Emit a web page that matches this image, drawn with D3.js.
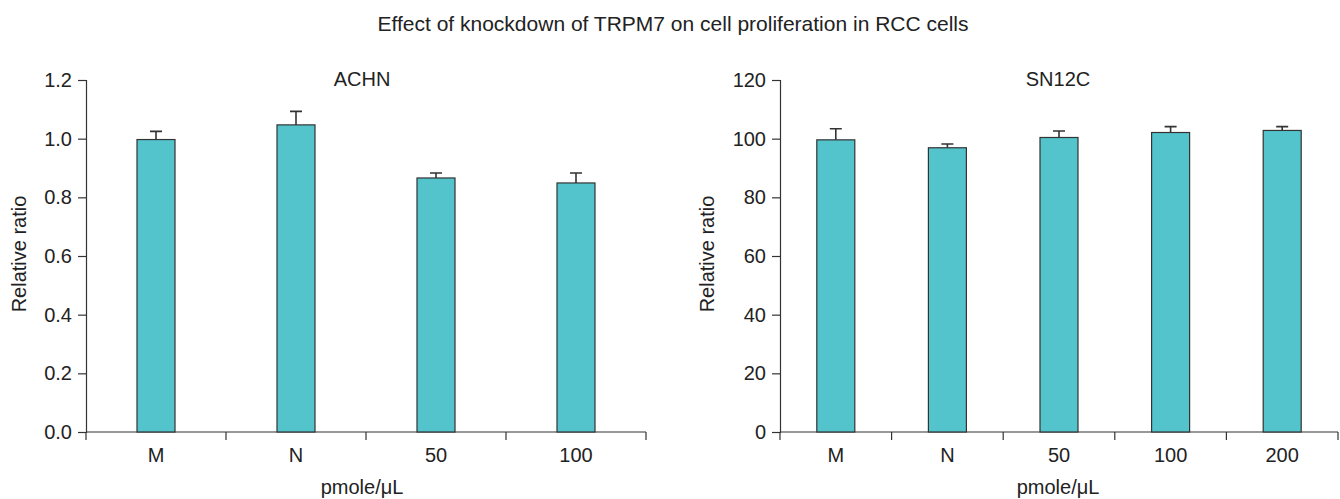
<!DOCTYPE html>
<html>
<head>
<meta charset="utf-8">
<script src="https://cdn.jsdelivr.net/npm/d3@7"></script>
<style>
  body { margin: 0; background: #fff; }
  text { font-family: "Liberation Sans", Arial, sans-serif; fill: #222; }
</style>
</head>
<body>
<div id="chart"></div>
<script>
// data
var achnCats = ["M", "N", "50", "100"];
var achnVals = [0.997, 1.047, 0.866, 0.849];
var achnErr  = [0.028, 0.046, 0.017, 0.034];
var achnTicks = [0, 0.2, 0.4, 0.6, 0.8, 1.0, 1.2];

var snCats = ["M", "N", "50", "100", "200"];
var snVals = [99.6, 96.9, 100.4, 102.1, 102.8];
var snErr  = [3.8, 1.3, 2.2, 2.0, 1.3];
var snTicks = [0, 20, 40, 60, 80, 100, 120];

var width = 1340, height = 499;
var barColor = "#53c4cc";
var lineColor = "#333";

var svg = d3.select("#chart").append("svg")
  .attr("width", width)
  .attr("height", height);

svg.append("text")
  .attr("x", 673).attr("y", 31)
  .attr("text-anchor", "middle")
  .style("font-size", "21px")
  .text("Effect of knockdown of TRPM7 on cell proliferation in RCC cells");

function drawPanel(opt) {
  var x = d3.scaleBand().domain(opt.cats).range([opt.x0, opt.x1]).padding(0);
  var y = d3.scaleLinear().domain([0, opt.max]).range([432, 80]);
  var g = svg.append("g");

  // y axis
  var yAxis = d3.axisLeft(y).tickValues(opt.ticks).tickSizeOuter(0).tickSize(8).tickPadding(6)
    .tickFormat(opt.fmt);
  var ya = g.append("g").attr("transform", "translate(" + opt.x0 + ",0)").call(yAxis);
  ya.selectAll("path, line").attr("stroke", lineColor).attr("stroke-width", 1.2);
  ya.selectAll("text").style("font-size", "20px").attr("fill", "#222");

  // x axis: baseline and ticks at band edges
  g.append("line")
    .attr("x1", opt.x0).attr("x2", opt.x1)
    .attr("y1", y(0)).attr("y2", y(0))
    .attr("stroke", lineColor).attr("stroke-width", 1.2);
  var edges = d3.range(opt.cats.length + 1).map(function(i) { return opt.x0 + i * x.step(); });
  g.selectAll(".xt").data(edges).enter().append("line")
    .attr("x1", function(d) { return d; }).attr("x2", function(d) { return d; })
    .attr("y1", y(0)).attr("y2", y(0) + 8)
    .attr("stroke", lineColor).attr("stroke-width", 1.2);
  g.selectAll(".xl").data(opt.cats).enter().append("text")
    .attr("x", function(d) { return x(d) + x.bandwidth() / 2; })
    .attr("y", 462)
    .attr("text-anchor", "middle")
    .style("font-size", "20px")
    .text(function(d) { return d; });

  // error bars (upper only)
  var bw = 38;
  g.selectAll(".err").data(opt.cats).enter().append("path")
    .attr("d", function(d, i) {
      var cx = x(d) + x.bandwidth() / 2;
      var top = y(opt.vals[i] + opt.err[i]);
      return "M" + cx + "," + y(opt.vals[i]) + "V" + top + "M" + (cx - 6) + "," + top + "H" + (cx + 6);
    })
    .attr("fill", "none")
    .attr("stroke", lineColor).attr("stroke-width", 1.6);

  // bars
  g.selectAll(".bar").data(opt.cats).enter().append("rect")
    .attr("x", function(d) { return x(d) + x.bandwidth() / 2 - bw / 2; })
    .attr("y", function(d, i) { return y(opt.vals[i]); })
    .attr("width", bw)
    .attr("height", function(d, i) { return y(0) - y(opt.vals[i]); })
    .attr("fill", barColor)
    .attr("stroke", lineColor).attr("stroke-width", 1.2);

  // titles
  g.append("text")
    .attr("x", opt.tx).attr("y", 86)
    .attr("text-anchor", "middle")
    .style("font-size", "20px")
    .text(opt.name);
  g.append("text")
    .attr("x", opt.tx).attr("y", 494)
    .attr("text-anchor", "middle")
    .style("font-size", "20px")
    .text("pmole/\u03bcL");
  g.append("text")
    .attr("transform", "translate(" + opt.ylx + ",254) rotate(-90)")
    .attr("text-anchor", "middle")
    .style("font-size", "20px")
    .text("Relative ratio");
}

drawPanel({ name: "ACHN", cats: achnCats, vals: achnVals, err: achnErr, ticks: achnTicks,
  max: 1.2, fmt: d3.format(".1f"), x0: 86, x1: 646, ylx: 26, tx: 362 });
drawPanel({ name: "SN12C", cats: snCats, vals: snVals, err: snErr, ticks: snTicks,
  max: 120, fmt: d3.format("d"), x0: 780, x1: 1338, ylx: 714, tx: 1058 });
</script>
</body>
</html>
